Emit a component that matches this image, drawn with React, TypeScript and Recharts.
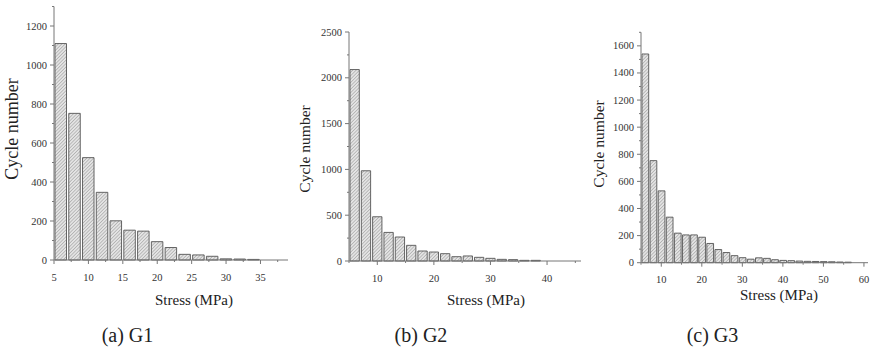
import React from 'react';
import { BarChart, Bar, XAxis, YAxis } from 'recharts';

// stress bins (MPa, bin centres) and counted cycles for each specimen
const g1Stress = [6, 8, 10, 12, 14, 16, 18, 20, 22, 24, 26, 28, 30, 32, 34];
const g1Cycles = [1110, 752, 525, 347, 201, 153, 148, 94, 64, 29, 26, 19, 6, 5, 3];

const g2Stress = [6, 8, 10, 12, 14, 16, 18, 20, 22, 24, 26, 28, 30, 32, 34, 36, 38];
const g2Cycles = [2090, 985, 483, 312, 262, 171, 109, 98, 80, 47, 55, 40, 29, 18, 15, 7, 7];

const g3Stress = [
  6, 8, 10, 12, 14, 16, 18, 20, 22, 24, 26, 28, 30, 32, 34, 36, 38, 40, 42, 44, 46, 48, 50, 52, 54, 56,
];
const g3Cycles = [
  1540, 753, 530, 336, 218, 205, 205, 188, 142, 97, 75, 52, 37, 26, 36, 32, 22, 17, 15, 12, 10, 9, 8, 7, 5, 4,
];

// ticks (major ones get a label)
const g1XTicks = [5, 7.5, 10, 12.5, 15, 17.5, 20, 22.5, 25, 27.5, 30, 32.5, 35, 37.5];
const g1YTicks = [0, 100, 200, 300, 400, 500, 600, 700, 800, 900, 1000, 1100, 1200, 1300];
const g2XTicks = [5, 10, 15, 20, 25, 30, 35, 40, 45];
const g2YTicks = [0, 250, 500, 750, 1000, 1250, 1500, 1750, 2000, 2250, 2500];
const g3XTicks = [5, 10, 15, 20, 25, 30, 35, 40, 45, 50, 55, 60];
const g3YTicks = [0, 100, 200, 300, 400, 500, 600, 700, 800, 900, 1000, 1100, 1200, 1300, 1400, 1500, 1600, 1700];

const captions = ['(a) G1', '(b) G2', '(c) G3'];

const toRows = (xs: number[], ys: number[]) => xs.map((s, i) => ({ stress: s, cycles: ys[i] }));

const FONT = '"Liberation Serif", "Times New Roman", serif';
const AXIS = '#777';
const TICK = 4;
const GAP_Y = 3;
const GAP_X = 6;

const YTick = (props: any) => {
  const { x, y, payload, major } = props;
  const isMajor = payload.value % major === 0;
  const ax = x + TICK + GAP_Y;
  return (
    <g>
      <line x1={ax} x2={ax - (isMajor ? 4 : 2)} y1={y} y2={y} stroke={AXIS} strokeWidth={1} />
      {isMajor && (
        <text x={ax - 7} y={y} textAnchor="end" dominantBaseline="central" fontSize={10.5} fontFamily={FONT} fill="#333">
          {payload.value}
        </text>
      )}
    </g>
  );
};

const XTick = (props: any) => {
  const { x, y, payload, major } = props;
  const isMajor = payload.value % major === 0;
  const ay = y - TICK - GAP_X;
  return (
    <g>
      <line x1={x} x2={x} y1={ay} y2={ay + (isMajor ? 4 : 2)} stroke={AXIS} strokeWidth={1} />
      {isMajor && (
        <text x={x} y={ay + 17} textAnchor="middle" dominantBaseline="central" fontSize={10.5} fontFamily={FONT} fill="#333">
          {payload.value}
        </text>
      )}
    </g>
  );
};

const Panel = ({ id, rows, left, width, margin, yWidth, xDomain, xTicks, xMajor, yDomain, yTicks, yMajor, barSize }: any) => (
  <div style={{ position: 'absolute', left, top: 0 }}>
    <BarChart width={width} height={290} data={rows} margin={margin}>
      <defs>
        <pattern id={id} patternUnits="userSpaceOnUse" width={2.4} height={2.4} patternTransform="rotate(45)">
          <rect width={2.4} height={2.4} fill="#e4e4e4" />
          <line x1={0} y1={0} x2={0} y2={2.4} stroke="#8a8a8a" strokeWidth={0.9} />
        </pattern>
      </defs>
      <XAxis
        dataKey="stress"
        type="number"
        domain={xDomain}
        ticks={xTicks}
        interval={0}
        height={20}
        tickSize={TICK}
        tickMargin={GAP_X}
        tickLine={false}
        axisLine={{ stroke: AXIS }}
        tick={(p: any) => <XTick {...p} major={xMajor} />}
      />
      <YAxis
        type="number"
        domain={yDomain}
        ticks={yTicks}
        interval={0}
        width={yWidth}
        tickSize={TICK}
        tickMargin={GAP_Y}
        tickLine={false}
        axisLine={{ stroke: AXIS }}
        tick={(p: any) => <YTick {...p} major={yMajor} />}
      />
      <Bar dataKey="cycles" fill={`url(#${id})`} stroke="#555" strokeWidth={0.9} barSize={barSize} isAnimationActive={false} />
    </BarChart>
  </div>
);

export default function App() {
  return (
    <div style={{ position: 'absolute', left: 0, top: 0, width: 870, height: 351, background: '#fff', overflow: 'hidden' }}>
      <Panel
        id="hatchA"
        rows={toRows(g1Stress, g1Cycles)}
        left={0}
        width={290}
        margin={{ top: 6.5, right: 2, bottom: 10, left: 0 }}
        yWidth={54}
        xDomain={[5, 39]}
        xTicks={g1XTicks}
        xMajor={5}
        yDomain={[0, 1300]}
        yTicks={g1YTicks}
        yMajor={200}
        barSize={11.5}
      />
      <Panel
        id="hatchB"
        rows={toRows(g2Stress, g2Cycles)}
        left={290}
        width={292}
        margin={{ top: 32, right: 1, bottom: 9, left: 0 }}
        yWidth={59}
        xDomain={[5, 46]}
        xTicks={g2XTicks}
        xMajor={10}
        yDomain={[0, 2500]}
        yTicks={g2YTicks}
        yMajor={500}
        barSize={9.3}
      />
      <Panel
        id="hatchC"
        rows={toRows(g3Stress, g3Cycles)}
        left={580}
        width={290}
        margin={{ top: 32.3, right: 2, bottom: 7.3, left: 0 }}
        yWidth={61}
        xDomain={[5, 61]}
        xTicks={g3XTicks}
        xMajor={10}
        yDomain={[0, 1700]}
        yTicks={g3YTicks}
        yMajor={200}
        barSize={6.7}
      />
      <svg width={870} height={351} style={{ position: 'absolute', left: 0, top: 0, pointerEvents: 'none' }} fontFamily={FONT} fill="#222">
        <text x={12} y={129} fontSize={18} textAnchor="middle" dominantBaseline="central" transform="rotate(-90 12 129)">
          Cycle number
        </text>
        <text x={304} y={149} fontSize={15.5} textAnchor="middle" dominantBaseline="central" transform="rotate(-90 304 149)">
          Cycle number
        </text>
        <text x={598} y={144} fontSize={15.5} textAnchor="middle" dominantBaseline="central" transform="rotate(-90 598 144)">
          Cycle number
        </text>
        <text x={194} y={300} fontSize={15} textAnchor="middle" dominantBaseline="central">Stress (MPa)</text>
        <text x={486} y={300} fontSize={15} textAnchor="middle" dominantBaseline="central">Stress (MPa)</text>
        <text x={779} y={295} fontSize={15} textAnchor="middle" dominantBaseline="central">Stress (MPa)</text>
        <text x={127.5} y={335} fontSize={20} textAnchor="middle" dominantBaseline="central">{captions[0]}</text>
        <text x={421} y={335} fontSize={20} textAnchor="middle" dominantBaseline="central">{captions[1]}</text>
        <text x={712.5} y={335} fontSize={20} textAnchor="middle" dominantBaseline="central">{captions[2]}</text>
      </svg>
    </div>
  );
}
